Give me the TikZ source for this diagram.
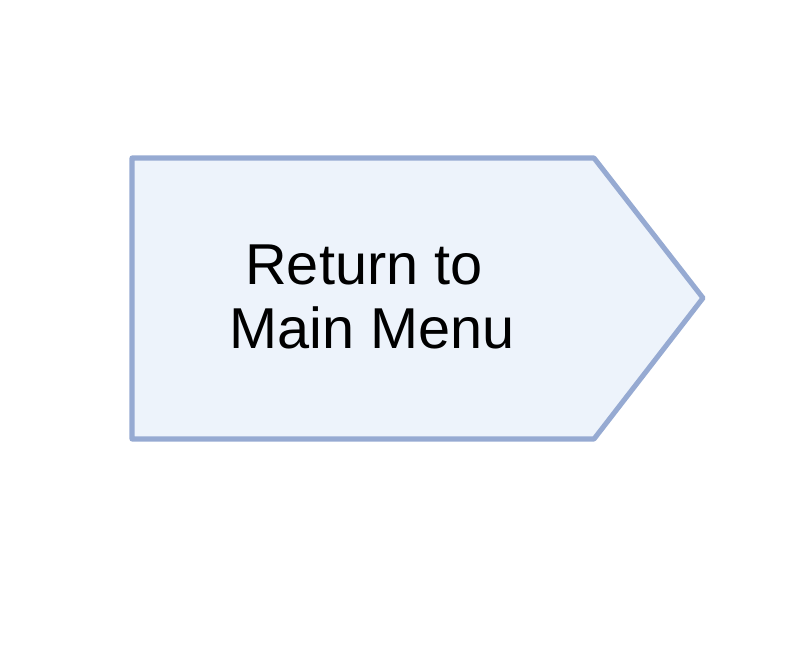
\documentclass[tikz,border=0pt]{standalone}
\usepackage{fontspec}
\setmainfont{Liberation Sans}
\usepackage{tikz}
\usetikzlibrary{positioning}
\definecolor{menuedge}{RGB}{150, 170, 210}
\definecolor{menufill}{RGB}{237, 243, 251}

\begin{document}
\begin{tikzpicture}[x=0.025cm, y=0.025cm]
  \useasboundingbox (0,0) rectangle (800,646);
  % arrow-shaped box
  \filldraw[menuedge, fill=menufill, line width=3.6pt, line join=round]
      (132,488) -- (594,488) -- (703,348) -- (594,207) -- (132,207) -- cycle;
  % label
  \node[align=center, font=\fontsize{41}{45}\selectfont] (returnlbl) at (372,349)
      {Return to\hspace*{0.28em}\\Main Menu};
\end{tikzpicture}
\end{document}
